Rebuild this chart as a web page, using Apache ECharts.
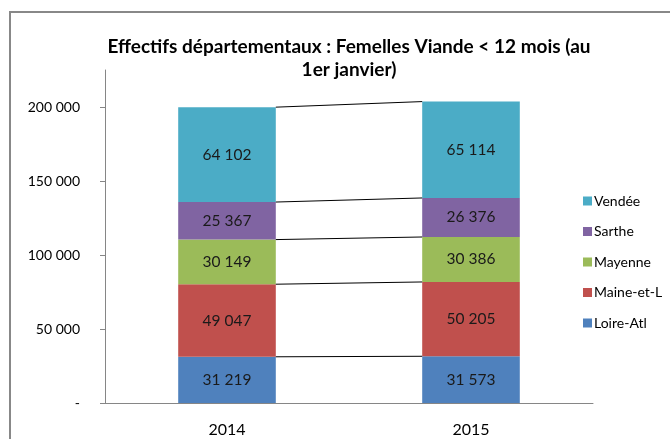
<!DOCTYPE html>
<html>
<head>
<meta charset="utf-8">
<title>Effectifs départementaux</title>
<script src="https://cdn.jsdelivr.net/npm/echarts@6/dist/echarts.min.js"></script>
</head>
<body style="margin:0;background:#fff">
<div id="main" style="width:670px;height:439px;"></div>
<script>
var years = ['2014', '2015']
var loireAtl = [31219, 31573]
var maineEtL = [49047, 50205]
var mayenne = [30149, 30386]
var sarthe = [25367, 26376]
var vendee = [64102, 65114]
var yTicks = [0, 50000, 100000, 150000, 200000]

var stack = [
    {name: 'Loire-Atl', data: loireAtl, color: '#4F81BD'},
    {name: 'Maine-et-L', data: maineEtL, color: '#C0504D'},
    {name: 'Mayenne', data: mayenne, color: '#9BBB59'},
    {name: 'Sarthe', data: sarthe, color: '#8064A2'},
    {name: 'Vendée', data: vendee, color: '#4BACC6'}
]

var fmt = function(v) {
    if (v === 0) return '-'
    return String(v).replace(/\B(?=(\d{3})+(?!\d))/g, ' ')
}

// cumulative tops of each segment, one line per boundary
var sums = [0, 0]
var joins = []
stack.forEach(function(s) {
    sums = [sums[0] + s.data[0], sums[1] + s.data[1]]
    joins.push([sums[0], sums[1]])
})

var series = stack.map(function(s) {
    return {
        name: s.name,
        type: 'bar',
        stack: 'total',
        barWidth: '40%',
        clip: false,
        data: s.data,
        itemStyle: {color: s.color},
        label: {
            show: true,
            position: 'inside',
            color: '#1a1a1a',
            fontSize: 15.5,
            fontFamily: 'Lato',
            formatter: function(p) { return fmt(p.value) }
        }
    }
})

series.push({
    type: 'custom',
    silent: true,
    z: 5,
    data: joins,
    renderItem: function(params, api) {
        var a = api.coord([0, api.value(0)])
        var b = api.coord([1, api.value(1)])
        var half = api.size([1, 0])[0] * 0.4 / 2
        return {
            type: 'line',
            shape: {x1: a[0] + half, y1: a[1], x2: b[0] - half, y2: b[1]},
            style: {stroke: '#000', lineWidth: 1}
        }
    }
})

var chart = echarts.init(document.getElementById('main'))
chart.setOption({
    animation: false,
    title: {
        text: 'Effectifs départementaux : Femelles Viande < 12 mois (au\n1er janvier)',
        left: 344,
        textAlign: 'center',
        top: 30,
        textStyle: {fontFamily: 'Lato', fontWeight: 'bold', fontSize: 19, lineHeight: 23, color: '#000'}
    },
    graphic: [{
        type: 'rect',
        shape: {x: 10, y: 12, width: 700, height: 460},
        style: {fill: 'none', stroke: '#888', lineWidth: 2},
        silent: true
    }],
    legend: {
        orient: 'vertical',
        left: 578,
        top: 189,
        itemWidth: 9,
        itemHeight: 9,
        itemGap: 16.5,
        icon: 'rect',
        data: ['Vendée', 'Sarthe', 'Mayenne', 'Maine-et-L', 'Loire-Atl'],
        textStyle: {fontFamily: 'Lato', fontSize: 14, lineHeight: 14, color: '#000', padding: [0, 0, 0, -3]}
    },
    grid: {left: 105, right: 77, top: 70, bottom: 36, containLabel: false},
    xAxis: {
        type: 'category',
        data: years,
        axisLine: {lineStyle: {color: '#868686'}},
        axisTick: {length: 7, lineStyle: {color: '#868686'}},
        axisLabel: {fontFamily: 'Lato', fontSize: 16, color: '#000', margin: 19}
    },
    yAxis: {
        type: 'value',
        min: 0,
        max: 225000,
        interval: 50000,
        splitLine: {show: false},
        axisLine: {show: true, lineStyle: {color: '#868686'}},
        axisTick: {show: true, length: 5, customValues: yTicks, lineStyle: {color: '#868686'}},
        axisLabel: {
            customValues: yTicks,
            fontFamily: 'Lato', fontSize: 14, color: '#000', margin: 25,
            formatter: fmt
        }
    },
    series: series
})
</script>
</body>
</html>
